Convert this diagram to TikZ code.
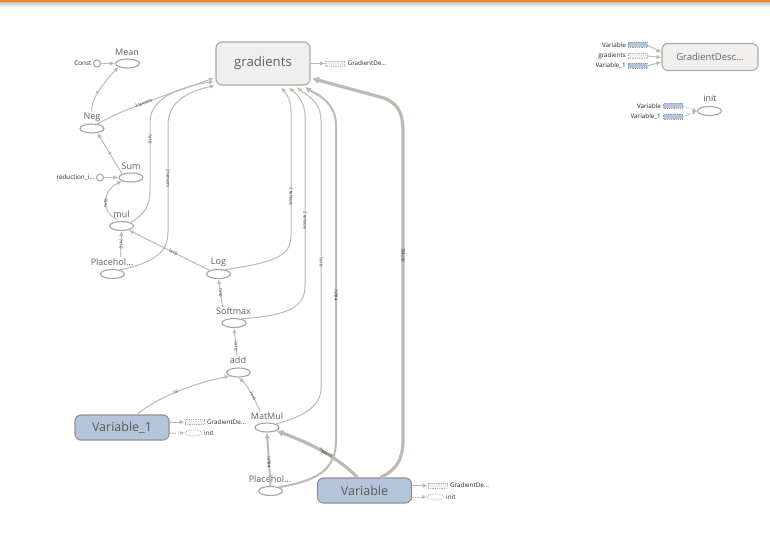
\documentclass[tikz,border=0pt]{standalone}
\usepackage{fontspec}
\setmainfont{Open Sans}
\usetikzlibrary{arrows.meta,shapes.geometric,calc}

\definecolor{linkgray}{HTML}{BDBAB3}
\definecolor{opline}{HTML}{A8A59E}
\definecolor{labelgray}{HTML}{5E6167}
\definecolor{metagray}{HTML}{F0EFED}
\definecolor{metaline}{HTML}{ADAAA4}
\definecolor{varfill}{HTML}{B4C4D9}
\definecolor{varline}{HTML}{8B929B}
\definecolor{stubblue}{HTML}{8EA0B8}
\definecolor{tborange}{HTML}{F58220}

\tikzset{
  op/.style={ellipse, draw=opline, line width=1.1pt, fill=white,
    minimum width=24pt, minimum height=9pt, inner sep=0pt},
  oplabel/.style={font=\fontsize{9}{10}\selectfont, text=labelgray, inner sep=0pt},
  auxtext/.style={font=\fontsize{6.3}{7}\selectfont, text=black!85, inner sep=0pt},
  cst/.style={circle, draw=opline, line width=1pt, fill=white, minimum size=7pt, inner sep=0pt},
  link/.style={draw=linkgray, line width=1pt, -{Latex[length=5pt,width=4.5pt]}},
  midlink/.style={draw=linkgray, line width=2pt, -{Latex[length=6pt,width=6pt]}},
  thicklink/.style={draw=linkgray, line width=3.2pt, -{Latex[length=7pt,width=7.5pt]}},
  reflink/.style={draw=linkgray, line width=0.9pt, dash pattern=on 1.5pt off 1.2pt,
    -{Latex[length=4.5pt,width=4pt]}},
  tag/.style={font=\fontsize{4.2}{5}\selectfont, text=black!85, inner sep=0.3pt},
  meta/.style={rectangle, rounded corners=6pt, draw=metaline, line width=1.1pt,
    fill=metagray, text=labelgray},
  var/.style={rectangle, rounded corners=6pt, draw=varline, line width=1.1pt,
    fill=varfill, text=black!65, minimum width=94pt, minimum height=25pt,
    font=\fontsize{12.5}{14}\selectfont},
  stubg/.style={rectangle, draw=black!30, fill=black!6, dash pattern=on 1pt off 0.8pt,
    line width=0.6pt, minimum width=19pt, minimum height=5pt, inner sep=0pt},
  stubv/.style={rectangle, draw=stubblue, fill=varfill, dash pattern=on 1pt off 0.8pt,
    line width=0.6pt, minimum width=19pt, minimum height=5pt, inner sep=0pt},
  stubinit/.style={ellipse, draw=black!30, fill=white, dash pattern=on 1pt off 0.8pt,
    line width=0.6pt, minimum width=17pt, minimum height=6pt, inner sep=0pt},
}

\begin{document}
\begin{tikzpicture}[x=1pt,y=-1pt]
\useasboundingbox (0,0) rectangle (770,540);
\fill[white] (0,0) rectangle (770,540);

% header strip
\fill[tborange] (0,0) rectangle (770,2.5);
\shade[top color=black!22, bottom color=white] (0,2.5) rectangle (770,7);

% ---------- main graph nodes ----------
\node[meta, minimum width=94pt, minimum height=43pt, font=\fontsize{13.2}{15}\selectfont]
  (grad) at (263,63.5) {gradients};

\node[op] (mean) at (127.5,63.5) {};  \node[oplabel] (meanl) at (127,52) {Mean};
\node[op] (neg)  at (92,128.5) {};    \node[oplabel] (negl)  at (92,117) {Neg};
\node[op] (sum)  at (131,177.5) {};   \node[oplabel] (suml)  at (131,166) {Sum};
\node[op] (mul)  at (121.5,226) {};   \node[oplabel] (mull)  at (121.5,214.5) {mul};
\node[op] (plc1) at (112.5,274) {};   \node[oplabel] (plc1l) at (112,262.5) {Placehol...};
\node[op] (log)  at (218.5,274) {};   \node[oplabel] (logl)  at (218.5,262.5) {Log};
\node[op] (soft) at (234,323) {};     \node[oplabel] (softl) at (233.5,311.5) {Softmax};
\node[op] (add)  at (238.5,372.5) {}; \node[oplabel] (addl)  at (238,360.5) {add};
\node[op] (mm)   at (267,427.5) {};   \node[oplabel] (mml)   at (267,416) {MatMul};
\node[op] (plc2) at (270.5,491) {};   \node[oplabel] (plc2l) at (270,479.5) {Placehol...};

\node[cst] (const) at (97,63.5) {};
\node[auxtext, anchor=east] (constl) at (91.5,63.5) {Const};
\node[cst] (red) at (100,177.5) {};
\node[auxtext, anchor=east] (redl) at (94.5,177.5) {reduction\_i...};

\node[var] (v1) at (122,427.5) {Variable\_1};
\node[var] (v)  at (364.5,490.5) {Variable};

% attached references
\node[stubg] (gradgd) at (335,63.5) {};
\node[auxtext, anchor=west] at (347.5,63.5) {GradientDe...};
\node[stubg] (v1gd) at (194.5,422) {};
\node[auxtext, anchor=west] at (207,422) {GradientDe...};
\node[stubinit] (v1init) at (193.5,433) {};
\node[auxtext, anchor=west] at (204,433.5) {init};
\node[stubg] (vgd) at (437.5,485.5) {};
\node[auxtext, anchor=west] at (450,485.5) {GradientDe...};
\node[stubinit] (vinit) at (435.5,497) {};
\node[auxtext, anchor=west] at (446,497.5) {init};

% ---------- side nodes ----------
\node[meta, minimum width=96pt, minimum height=27pt, font=\fontsize{9.5}{11}\selectfont]
  (gdop) at (710,57) {GradientDesc...};
\node[stubv] (gdv)  at (637.5,45) {};  \node[auxtext, anchor=east] at (626,45) {Variable};
\node[stubg] (gdg)  at (637.5,56) {};  \node[auxtext, anchor=east] at (626,56) {gradients};
\node[stubv] (gdv1) at (637.5,66) {};  \node[auxtext, anchor=east] at (626,66) {Variable\_1};

\node[op] (init) at (709.5,111) {};   \node[oplabel] (initl) at (710,98.5) {init};
\node[stubv] (iv)  at (673,106) {};   \node[auxtext, anchor=east] at (661,106) {Variable};
\node[stubv] (iv1) at (673,117) {};   \node[auxtext, anchor=east] at (661,117) {Variable\_1};

% ---------- connectors ----------
\draw[link] (const) -- (mean.west);
\draw[link] (red) -- (sum.west);

\draw[link] ($(negl.north)+(0,-1)$) .. controls (90,100) and (104,82) .. (mean.south west)
  node[tag, pos=0.45, sloped] {?};
\draw[link] (neg.40) .. controls (125,108) and (170,94) .. (214,78)
  node[tag, pos=0.45, sloped] {2 tensors};
\draw[link] (sum.north west) -- (neg.-40)
  node[tag, pos=0.5, sloped] {?};
\draw[link] ($(mul.north)+(-5,-2)$) .. controls (100,212) and (103,190) .. (sum.south west)
  node[tag, pos=0.45, sloped] {?x10};
\draw[link] (mul.north east) .. controls (146,214) and (150,204) .. (150,190)
  -- node[tag, pos=0.75, rotate=-90] {?x10} (150,122)
  .. controls (150,96) and (185,86) .. (214,81.5);
\draw[link] ($(plc1.north)+(8,-12)$) -- (mul.south)
  node[tag, pos=0.5, rotate=-90] {?x10};
\draw[link] (plc1.30) .. controls (158,262) and (168,250) .. (168,232)
  -- node[tag, pos=0.5, rotate=-90] {2 tensors} (168,125)
  .. controls (168,98) and (195,90) .. (215,85.5);
\draw[link] (log.north west) -- (mul.-30)
  node[tag, pos=0.45, sloped] {?x10};
\draw[link] (log.35) .. controls (278,262) and (291,255) .. (291,235)
  -- node[tag, pos=0.31, rotate=-90] {2 tensors} (291,112)
  .. controls (291,98) and (285,92) .. (281,87.5);
\draw[link] ($(softl.north)+(-11,-1)$) -- (log.south)
  node[tag, pos=0.5, rotate=-90] {?x10};
\draw[link] (soft.30) .. controls (294,315) and (305,305) .. (305,285)
  -- node[tag, pos=0.38, rotate=-90] {2 tensors} (305,116)
  .. controls (305,100) and (294,92) .. (289,87.5);
\draw[link] ($(addl.north)+(-1,-1)$) -- (soft.south)
  node[tag, pos=0.35, rotate=-90] {?x10};
\draw[link] ($(mml.north)+(-7,-1)$) .. controls (253,395) and (247,385) .. (add.south)
  node[tag, pos=0.35, rotate=-65] {?x10};
\draw[link] (mm.north east) .. controls (306,416) and (321,405) .. (321,388)
  -- node[tag, pos=0.47, rotate=-90] {?x10} (321,120)
  .. controls (321,100) and (303,93) .. (297,87);
\draw[link] ($(v1.north)+(15,0)$) .. controls (160,395) and (200,382) .. (add.south west)
  node[tag, pos=0.45, sloped] {10};

\draw[midlink] (plc2.north) -- (mm.south)
  node[tag, pos=0.45, rotate=-90] {?x784};
\draw[midlink] (plc2.25) .. controls (324,480) and (336,465) .. (336,440)
  -- node[tag, pos=0.46, rotate=-90] {?x784} (336,125)
  .. controls (336,100) and (312,92) .. (305,87);

\draw[thicklink] ($(v.north)+(-7,0)$) .. controls (340,460) and (318,446) .. (mm.-20)
  node[tag, pos=0.5, sloped] {784x10};
\draw[thicklink] ($(v.north)+(16,0)$) .. controls (396,470) and (403,460) .. (403,440)
  -- node[tag, pos=0.6, rotate=-90] {784x10} (403,132)
  .. controls (403,110) and (396,103) .. (384,98) -- (312,78.5);

% references to the update op and initializer
\draw[link] (grad.east) -- (gradgd.west);
\draw[link] ($(v1.east)+(0,-5.5)$) -- (v1gd.west);
\draw[reflink] ($(v1.east)+(0,5.5)$) -- (v1init.west);
\draw[link] ($(v.east)+(0,-5)$) -- (vgd.west);
\draw[reflink] ($(v.east)+(0,6.5)$) -- (vinit.west);

\draw[link] (gdv.east) -- ($(gdop.west)+(0,-4.5)$);
\draw[link] (gdg.east) -- ($(gdop.west)+(0,0.5)$);
\draw[link] (gdv1.east) -- ($(gdop.west)+(0,5)$);
\draw[reflink] (iv.east) -- (init.west);
\draw[reflink] (iv1.east) -- (init.west);
\end{tikzpicture}
\end{document}
